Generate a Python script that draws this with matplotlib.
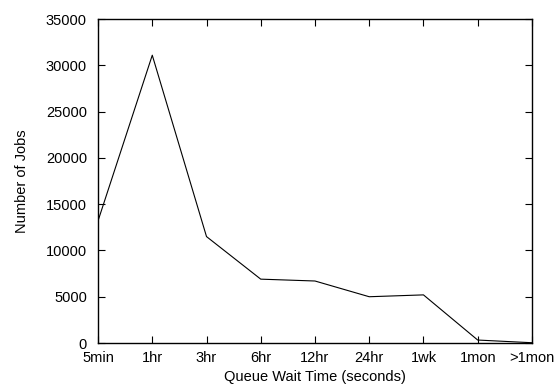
import matplotlib
matplotlib.use('Agg')
import matplotlib.pyplot as plt

# queue wait time buckets and job counts
categories = ['5min', '1hr', '3hr', '6hr', '12hr', '24hr', '1wk', '1mon', '>1mon']
jobs = [13200, 31100, 11500, 6900, 6700, 5000, 5200, 320, 30]
yticks = [0, 5000, 10000, 15000, 20000, 25000, 30000, 35000]

plt.rcParams['font.family'] = ['Liberation Sans', 'DejaVu Sans']

fig = plt.figure(figsize=(5.57, 3.9), dpi=100)
ax = fig.add_axes([0.176, 0.1205, 0.779, 0.8305])

x = list(range(len(categories)))
ax.plot(x, jobs, color='black', linewidth=0.8)

ax.set_xlim(0, len(categories) - 1)
ax.set_ylim(0, 35000)
ax.set_xticks(x)
ax.set_xticklabels(categories, fontsize=10.5)
ax.set_yticks(yticks)
ax.set_yticklabels([str(v) for v in yticks], fontsize=10.5)
ax.tick_params(direction='in', top=True, right=True, length=5, width=0.8)
ax.tick_params(axis='y', pad=8)
ax.tick_params(axis='x', pad=6)
for s in ax.spines.values():
    s.set_linewidth(1.0)

ax.set_xlabel('Queue Wait Time (seconds)', fontsize=10.5, labelpad=3)
ax.set_ylabel('Number of Jobs', fontsize=10.5, labelpad=12)

fig.savefig('out.png', dpi=100)
